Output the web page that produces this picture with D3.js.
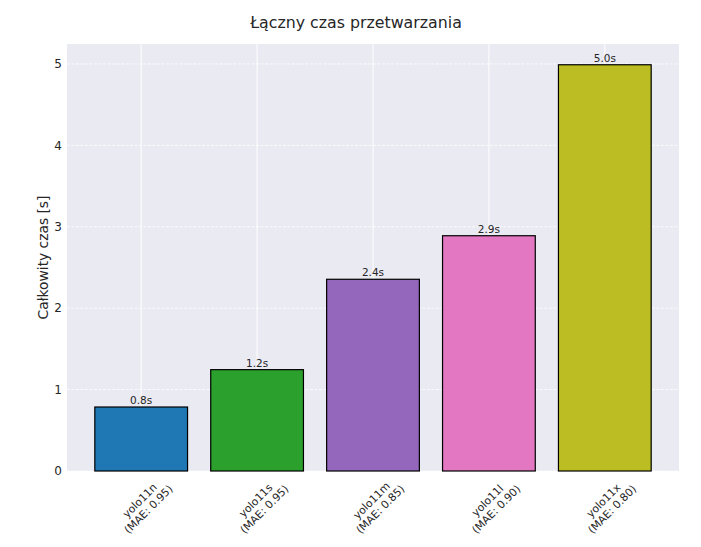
<!DOCTYPE html>
<html><head><meta charset="utf-8">
<script src="https://cdn.jsdelivr.net/npm/d3@7"></script>
<style>body{margin:0;background:#fff}svg{display:block}</style>
</head><body>
<svg id="c" width="701" height="547"></svg>
<script>
const models = ["yolo11n","yolo11s","yolo11m","yolo11l","yolo11x"];
const maeLabels = ["(MAE: 0.95)","(MAE: 0.95)","(MAE: 0.85)","(MAE: 0.90)","(MAE: 0.80)"];
const totalTime = [0.786, 1.245, 2.355, 2.89, 4.99];
const valueLabels = ["0.8s","1.2s","2.4s","2.9s","5.0s"];
const barColors = ["#1f77b4","#2ca02c","#9467bd","#e377c2","#bcbd22"];
const yTicks = [0,1,2,3,4,5];
const titleText = "Łączny czas przetwarzania";
const yLabelText = "Całkowity czas [s]";

const svg = d3.select("#c");
const font = "DejaVu Sans, sans-serif";
const m = {l:67, r:679, t:44, b:471};
const x = d3.scaleLinear().domain([-0.64, 4.64]).range([m.l, m.r]);
const y = d3.scaleLinear().domain([0, 5.245]).range([m.b, m.t]);
const bw = x(0.4) - x(-0.4);

svg.append("rect").attr("x", m.l).attr("y", m.t).attr("width", m.r-m.l).attr("height", m.b-m.t).attr("fill", "#eaeaf2");

// vertical grid
svg.append("g").selectAll("line").data(models).join("line")
  .attr("x1", (d,i)=>x(i)).attr("x2", (d,i)=>x(i)).attr("y1", m.t).attr("y2", m.b)
  .attr("stroke", "#fff").attr("stroke-width", 1);
// horizontal grid dashed
svg.append("g").selectAll("line").data(yTicks).join("line")
  .attr("x1", m.l).attr("x2", m.r).attr("y1", d=>y(d)).attr("y2", d=>y(d))
  .attr("stroke", "#fff").attr("stroke-width", 1).attr("stroke-dasharray", "3,1.5").attr("opacity", 0.8);

// bars
svg.append("g").selectAll("rect").data(totalTime).join("rect")
  .attr("x", (d,i)=>x(i)-bw/2).attr("width", bw)
  .attr("y", d=>y(d)).attr("height", d=>y(0)-y(d))
  .attr("fill", (d,i)=>barColors[i]).attr("stroke", "#000").attr("stroke-width", 1.2);

// value labels
svg.append("g").selectAll("text").data(totalTime).join("text")
  .attr("x", (d,i)=>x(i)).attr("y", d=>y(d)-3)
  .attr("text-anchor", "middle").attr("font-family", font).attr("font-size", 10.5).attr("fill", "#262626")
  .text((d,i)=>valueLabels[i]);

// y ticks
svg.append("g").selectAll("text").data(yTicks).join("text")
  .attr("x", 62).attr("y", d=>y(d)).attr("dy", "0.36em")
  .attr("text-anchor", "end").attr("font-family", font).attr("font-size", 12).attr("fill", "#262626")
  .text(d=>d);

// x tick labels rotated
const xg = svg.append("g").selectAll("g").data(models).join("g")
  .attr("transform", (d,i)=>`translate(${x(i)+3},${505}) rotate(-45)`);
xg.append("text").attr("text-anchor", "middle").attr("font-family", font).attr("font-size", 10.8).attr("fill", "#262626")
  .attr("y", -2.5).text(d=>d);
xg.append("text").attr("text-anchor", "middle").attr("font-family", font).attr("font-size", 10.8).attr("fill", "#262626")
  .attr("y", 9.8).text((d,i)=>maeLabels[i]);

// y label
svg.append("text").attr("transform", `translate(48,${(m.t+m.b)/2}) rotate(-90)`)
  .attr("text-anchor", "middle").attr("font-family", font).attr("font-size", 13.8).attr("fill", "#262626")
  .text(yLabelText);

// title
svg.append("text").attr("x", 356).attr("y", 28)
  .attr("text-anchor", "middle").attr("font-family", font).attr("font-size", 15.8).attr("fill", "#262626")
  .text(titleText);
</script>
</body></html>
